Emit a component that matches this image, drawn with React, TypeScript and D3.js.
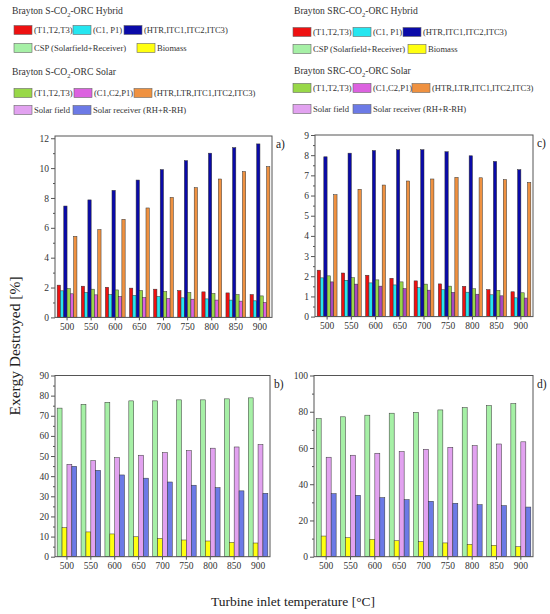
import React, {useEffect, useRef} from "react";
import * as d3 from "d3";

// turbine inlet temperatures (°C)
const temps = ["500", "550", "600", "650", "700", "750", "800", "850", "900"];

// a) Brayton S-CO2-ORC, component exergy destruction [%]
const aHybT = [2.16, 2.09, 2.02, 1.96, 1.89, 1.8, 1.71, 1.64, 1.53];
const aHybC = [1.78, 1.67, 1.53, 1.47, 1.4, 1.31, 1.24, 1.16, 1.11];
const aHybHx = [7.46, 7.87, 8.51, 9.2, 9.9, 10.5, 11.0, 11.37, 11.62];
const aSolT = [1.93, 1.89, 1.84, 1.8, 1.73, 1.67, 1.6, 1.53, 1.44];
const aSolC = [1.58, 1.51, 1.4, 1.33, 1.27, 1.22, 1.16, 1.09, 1.0];
const aSolHx = [5.43, 5.88, 6.57, 7.33, 8.04, 8.69, 9.27, 9.77, 10.1];

// c) Brayton SRC-CO2-ORC
const cHybT = [2.3, 2.16, 2.05, 1.9, 1.77, 1.62, 1.5, 1.34, 1.23];
const cHybC = [1.92, 1.8, 1.67, 1.57, 1.43, 1.33, 1.21, 1.08, 0.93];
const cHybHx = [7.92, 8.1, 8.23, 8.27, 8.27, 8.17, 7.97, 7.69, 7.28];
const cSolT = [2.02, 1.93, 1.82, 1.72, 1.61, 1.51, 1.38, 1.3, 1.18];
const cSolC = [1.72, 1.61, 1.51, 1.39, 1.31, 1.2, 1.11, 1.03, 0.92];
const cSolHx = [6.04, 6.31, 6.52, 6.72, 6.82, 6.9, 6.88, 6.79, 6.65];

// b) S-CO2: CSP, biomass, solar field, solar receiver
const bCsp = [73.8, 75.7, 76.7, 77.4, 77.4, 77.9, 77.9, 78.4, 78.9];
const bBio = [14.4, 12.3, 11.3, 9.9, 9.1, 8.3, 7.8, 7.1, 6.8];
const bField = [45.9, 47.7, 49.2, 50.4, 51.7, 52.7, 53.9, 54.5, 55.7];
const bRec = [44.9, 42.9, 40.6, 39.0, 37.1, 35.5, 34.3, 32.7, 31.5];

// d) SRC-CO2
const dCsp = [76.2, 77.2, 78.1, 79.2, 79.7, 81.0, 82.3, 83.4, 84.5];
const dBio = [11.4, 10.5, 9.6, 8.8, 8.3, 7.6, 6.8, 6.3, 5.5];
const dField = [54.9, 56.0, 57.1, 58.0, 59.3, 60.4, 61.3, 62.2, 63.4];
const dRec = [34.8, 33.9, 32.6, 31.5, 30.6, 29.5, 28.7, 28.2, 27.4];

const RED = "#ee1111", CYAN = "#25e6f0", BLUE = "#0a0aa8", LGREEN = "#a6f0a6",
    YEL = "#ffff10", GREEN = "#98d848", MAG = "#dc62e0", ORANGE = "#ef9140",
    LAV = "#e2a2f0", VIOLET = "#6c7ae6";

const FONT = "'Liberation Serif', 'DejaVu Serif', serif";

const App = () => {
    const svgRef = useRef(null)

    useEffect(() => {
        const svg = d3.select(svgRef.current)
        svg.selectAll("*").remove()

        const panels = [
            {x0: 55, x1: 272, y0: 136, y1: 317.4, max: 12.15, major: 2, minor: 1, tag: "a)",
                series: [aHybT, aHybC, aHybHx, aSolT, aSolC, aSolHx],
                colors: [RED, CYAN, BLUE, GREEN, MAG, ORANGE]},
            {x0: 315, x1: 533, y0: 135, y1: 316.6, max: 9, major: 1, minor: 0.5, tag: "c)",
                series: [cHybT, cHybC, cHybHx, cSolT, cSolC, cSolHx],
                colors: [RED, CYAN, BLUE, GREEN, "#a848c0", ORANGE]},
            {x0: 55, x1: 270, y0: 375.5, y1: 556.7, max: 90, major: 10, minor: 5, tag: "b)",
                series: [bCsp, bBio, bField, bRec],
                colors: [LGREEN, YEL, LAV, VIOLET]},
            {x0: 314, x1: 533, y0: 375.5, y1: 556.7, max: 100, major: 20, minor: 10, tag: "d)",
                series: [dCsp, dBio, dField, dRec],
                colors: [LGREEN, YEL, LAV, VIOLET]},
        ]

        panels.forEach(p => {
            const g = svg.append("g")
            const x = d3.scaleBand().domain(temps).range([p.x0, p.x1]).paddingInner(0.18).paddingOuter(0.09)
            const inner = d3.scaleBand().domain(d3.range(p.series.length).map(String)).range([0, x.bandwidth()])
            const y = d3.scaleLinear().domain([0, p.max]).range([p.y1, p.y0])

            p.series.forEach((vals, si) => {
                g.selectAll(null)
                    .data(vals)
                    .join("rect")
                    .attr("x", (d, i) => (x(temps[i]) as number) + (inner(String(si)) as number))
                    .attr("width", inner.bandwidth())
                    .attr("y", d => y(d))
                    .attr("height", d => p.y1 - y(d))
                    .attr("fill", p.colors[si])
                    .attr("stroke", "#333")
                    .attr("stroke-width", 0.5)
            })

            // frame
            g.append("rect")
                .attr("x", p.x0).attr("y", p.y0)
                .attr("width", p.x1 - p.x0).attr("height", p.y1 - p.y0)
                .attr("fill", "none").attr("stroke", "#555").attr("stroke-width", 1)

            const majors = d3.range(0, p.max + 1e-6, p.major)
            const minors = d3.range(p.minor, p.max, p.major)

            const yAxis = d3.axisLeft(y).tickValues(majors).tickSize(4).tickPadding(2).tickFormat(d3.format("d"))
            const ya = g.append("g").attr("transform", `translate(${p.x0},0)`).call(yAxis)
            ya.select(".domain").remove()
            ya.selectAll("text").attr("font-family", FONT).attr("font-size", 9.5).attr("fill", "#333")
            ya.selectAll("line").attr("stroke", "#555")

            const ym = g.append("g").attr("transform", `translate(${p.x0},0)`)
                .call(d3.axisLeft(y).tickValues(minors).tickSize(2).tickFormat(() => ""))
            ym.select(".domain").remove()
            ym.selectAll("line").attr("stroke", "#555")

            const xa = g.append("g").attr("transform", `translate(0,${p.y1})`)
                .call(d3.axisBottom(x).tickSize(3).tickPadding(3))
            xa.select(".domain").remove()
            xa.selectAll("text").attr("font-family", FONT).attr("font-size", 9.5).attr("fill", "#333")
            xa.selectAll("line").attr("stroke", "#555")

            g.append("text")
                .attr("x", p.x1 + 4).attr("y", p.y0 + 12)
                .attr("font-family", FONT).attr("font-size", 11.5).attr("fill", "#222")
                .text(p.tag)
        })

        // legends
        const legends = [
            {ox: 12, title: ["Brayton S-CO", "-ORC Hybrid"], ty: 14, rows: [
                {y: 30, items: [[RED, "(T1,T2,T3)", 14], [CYAN, "(C1, P1)", 73], [BLUE, "(HTR,ITC1,ITC2,ITC3)", 124]]},
                {y: 48, items: [[LGREEN, "CSP (Solarfield+Receiver)", 14], [YEL, "Biomass", 137]]}]},
            {ox: 12, title: ["Brayton S-CO", "-ORC Solar"], ty: 75, rows: [
                {y: 93, items: [[GREEN, "(T1,T2,T3)", 14], [MAG, "(C1,C2,P1)", 74], [ORANGE, "(HTR,LTR,ITC1,ITC2,ITC3)", 134]]},
                {y: 110, items: [[LAV, "Solar field", 14], [VIOLET, "Solar receiver (RH+R-RH)", 73]]}]},
            {ox: 294, title: ["Brayton SRC-CO", "-ORC Hybrid"], ty: 14, rows: [
                {y: 32, items: [[RED, "(T1,T2,T3)", 293], [CYAN, "(C1, P1)", 353], [BLUE, "(HTR,ITC1,ITC2,ITC3)", 403]]},
                {y: 49, items: [[LGREEN, "CSP (Solarfield+Receiver)", 293], [YEL, "Biomass", 408]]}]},
            {ox: 294, title: ["Brayton SRC-CO", "-ORC Solar"], ty: 74, rows: [
                {y: 88, items: [[GREEN, "(T1,T2,T3)", 293], [MAG, "(C1,C2,P1)", 353], [ORANGE, "(HTR,LTR,ITC1,ITC2,ITC3)", 412]]},
                {y: 109, items: [[LAV, "Solar field", 293], [VIOLET, "Solar receiver (RH+R-RH)", 353]]}]},
        ]

        legends.forEach(l => {
            const t = svg.append("text")
                .attr("x", l.ox).attr("y", l.ty)
                .attr("font-family", FONT).attr("font-size", 9.6).attr("fill", "#333")
            t.append("tspan").text(l.title[0])
            t.append("tspan").attr("font-size", 6.5).attr("dy", 2.5).text("2")
            t.append("tspan").attr("dy", -2.5).text(l.title[1])

            l.rows.forEach(r => {
                r.items.forEach(([c, label, sx]) => {
                    svg.append("rect")
                        .attr("x", sx as number).attr("y", r.y - 4.5)
                        .attr("width", 18).attr("height", 9)
                        .attr("fill", c as string).attr("stroke", "#666").attr("stroke-width", 0.6)
                    svg.append("text")
                        .attr("x", (sx as number) + 20).attr("y", r.y + 3)
                        .attr("font-family", FONT).attr("font-size", 8.6).attr("fill", "#333")
                        .text(label as string)
                })
            })
        })

        // axis titles
        svg.append("text")
            .attr("transform", "translate(20,346) rotate(-90)")
            .attr("text-anchor", "middle")
            .attr("font-family", FONT).attr("font-size", 15.5).attr("fill", "#222")
            .text("Exergy Destroyed [%]")

        svg.append("text")
            .attr("x", 293).attr("y", 606)
            .attr("text-anchor", "middle")
            .attr("font-family", FONT).attr("font-size", 13.5).attr("fill", "#222")
            .text("Turbine inlet temperature [°C]")
    }, [])

    return (
        <div style={{position: "absolute", left: 0, top: 0}}>
            <svg ref={svgRef} width={550} height={614} style={{display: "block", background: "#fff"}}/>
        </div>
    );
};

export default App;
